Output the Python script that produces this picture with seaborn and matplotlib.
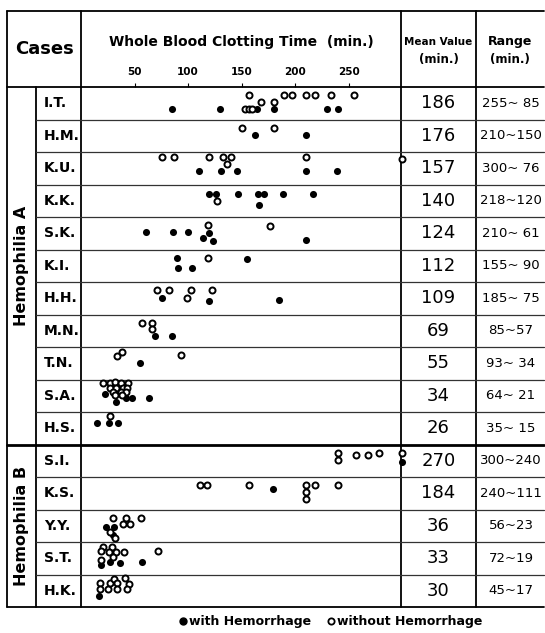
import pandas as pd
import matplotlib.pyplot as plt
import seaborn as sns
from matplotlib import font_manager
from matplotlib.lines import Line2D

cases = ['I.T.', 'H.M.', 'K.U.', 'K.K.', 'S.K.', 'K.I.', 'H.H.', 'M.N.', 'T.N.', 'S.A.', 'H.S.',
         'S.I.', 'K.S.', 'Y.Y.', 'S.T.', 'H.K.']
groups = ['Hemophilia A', 'Hemophilia B']
group_sizes = [11, 5]
mean_values = [186, 176, 157, 140, 124, 112, 109, 69, 55, 34, 26, 270, 184, 36, 33, 30]
ranges = ['255~ 85', '210~150', '300~ 76', '218~120', '210~ 61', '155~ 90', '185~ 75', '85~57',
          '93~ 34', '64~ 21', '35~ 15', '300~240', '240~111', '56~23', '72~19', '45~17']
tick_values = [50, 100, 150, 200, 250]

# (minutes, stacking level inside the row)
with_hemorrhage = {
    'I.T.': [(85, 2), (130, 2), (164, 2), (180, 2), (230, 2), (240, 2)],
    'H.M.': [(163, 1.1), (210, 1.1)],
    'K.U.': [(110, 1.6), (131, 1.6), (146, 1.6), (210, 1.6), (239, 1.6)],
    'K.K.': [(120, 0.2), (126, 0.2), (147, 0.2), (165, 0.2), (171, 0.2), (189, 0.2), (217, 0.2), (166, 1.9)],
    'S.K.': [(61, 1), (86, 1), (100, 1), (120, 1.2), (114, 1.9), (123, 2.3), (210, 2.2)],
    'K.I.': [(90, 0), (155, 0.2), (91, 1.5), (104, 1.5)],
    'H.H.': [(76, 1.2), (120, 1.6), (185, 1.5)],
    'M.N.': [(69, 2), (85, 2)],
    'T.N.': [(55, 1.2)],
    'S.A.': [(22, 1), (33, 2.1), (42, 1.6), (48, 1.6), (64, 1.6)],
    'H.S.': [(15, 0.5), (26, 0.5), (35, 0.5)],
    'S.I.': [(300, 1.4)],
    'K.S.': [(179, 0.6)],
    'Y.Y.': [(23, 1.4), (31, 1.4), (30, 2.6)],
    'S.T.': [(19, 2.2), (27, 1.8), (36, 1.9), (57, 1.8)],
    'H.K.': [(17, 2)],
}
without_hemorrhage = {
    'I.T.': [(157, 0), (190, 0), (197, 0), (210, 0), (219, 0), (234, 0), (255, 0),
             (168, 1), (180, 1), (153, 2), (157, 2), (160, 2)],
    'H.M.': [(150, 0), (180, 0)],
    'K.U.': [(76, -0.4), (87, -0.4), (120, -0.4), (133, -0.4), (140, -0.4), (210, -0.4),
             (300, -0.2), (136, 0.6)],
    'K.K.': [(127, 1.2)],
    'S.K.': [(119, 0), (177, 0.1)],
    'K.I.': [(119, 0.1)],
    'H.H.': [(71, 0), (82, 0), (103, 0), (122, 0), (99, 1.2)],
    'M.N.': [(57, 0), (66, 0), (66, 1)],
    'T.N.': [(34, 0.2), (38, -0.5), (93, 0)],
    'S.A.': [(21, -0.7), (27, -0.7), (32, -0.8), (37, -0.7), (44, -0.7),
             (27, 0), (33, 0), (39, 0), (43, 0),
             (30, 0.6), (37, 0.6), (42, 0.6), (32, 1.1), (38, 1.1)],
    'H.S.': [(27, -0.6)],
    'S.I.': [(240, 0.1), (240, 1.1), (257, 0.3), (268, 0.3), (278, 0.1), (300, 0)],
    'K.S.': [(111, 0), (118, 0), (157, 0), (210, 0), (210, 1.1), (210, 2.1), (219, 0), (240, 0)],
    'Y.Y.': [(30, 0), (42, 0), (56, 0), (39, 1), (46, 1), (27, 2.2), (32, 3)],
    'S.T.': [(21, -0.5), (29, -0.5), (19, 0.2), (26, 0.3), (33, 0.3), (40, 0.3), (30, 1.1),
             (72, 0.1), (19, 1.4)],
    'H.K.': [(18, 0), (18, 1), (25, 1), (27, 0), (31, -0.5), (34, 0), (34, 1), (41, -0.7),
             (45, 0.2), (43, 1)],
}

rows = []
for status, table in [('with', with_hemorrhage), ('without', without_hemorrhage)]:
    for case, pts in table.items():
        for minutes, level in pts:
            rows.append({'case': case, 'minutes': minutes, 'level': level, 'status': status})
df = pd.DataFrame(rows)
df['row'] = df['case'].map({c: i for i, c in enumerate(cases)})

W, H = 545, 633
row_h = 32.5
df['y'] = df['row'] - 0.5 + (8 + 6.8 * df['level']) / row_h

sns.set_style('white')
available = {f.name for f in font_manager.fontManager.ttflist}
narrow = 'Liberation Sans Narrow' if 'Liberation Sans Narrow' in available else 'DejaVu Sans'
plt.rcParams['font.family'] = [narrow, 'DejaVu Sans']
plt.rcParams['text.color'] = 'black'
plt.rcParams['xtick.color'] = 'black'

fig = plt.figure(figsize=(W / 100, H / 100), dpi=100)

# table frame in pixel coordinates
tab = fig.add_axes([0, 0, 1, 1])
tab.set_xlim(0, W)
tab.set_ylim(H, 0)
tab.axis('off')

left, right, top, head, bottom = 7, 544, 11, 87, 607
c_group, c_case, c_plot, c_mean = 36, 81, 401, 476
lw = 1.3
tab.plot([left, right], [top, top], color='black', lw=lw)
tab.plot([left, right], [head, head], color='black', lw=lw)
tab.plot([left, right], [bottom, bottom], color='black', lw=lw)
tab.plot([left, left], [top, bottom], color='black', lw=lw)
for x in [c_case, c_plot, c_mean]:
    tab.plot([x, x], [top, bottom], color='black', lw=lw)
tab.plot([c_group, c_group], [head, bottom], color='black', lw=lw)
for i in range(1, len(cases)):
    y = head + i * row_h
    if i == group_sizes[0]:
        tab.plot([left, right], [y, y], color='black', lw=2)
    else:
        tab.plot([c_group, right], [y, y], color='#333333', lw=0.9)

# headers
tab.text((left + c_case) / 2, 49, 'Cases', ha='center', va='center', fontsize=13, weight='bold')
tab.text((c_case + c_plot) / 2, 42, 'Whole Blood Clotting Time  (min.)', ha='center', va='center',
         fontsize=10, weight='bold')
tab.text((c_plot + c_mean) / 2, 42, 'Mean Value', ha='center', va='center', fontsize=7.5, weight='bold')
tab.text((c_plot + c_mean) / 2, 60, '(min.)', ha='center', va='center', fontsize=8.5, weight='bold')
tab.text((c_mean + right) / 2, 42, 'Range', ha='center', va='center', fontsize=9, weight='bold')
tab.text((c_mean + right) / 2, 60, '(min.)', ha='center', va='center', fontsize=8.5, weight='bold')

# group labels
start = 0
for g, n in zip(groups, group_sizes):
    yc = head + (start + n / 2) * row_h
    tab.text((left + c_group) / 2, yc, g, rotation=90, ha='center', va='center',
             fontsize=11.5, weight='bold')
    start += n

# case names, mean values, ranges
for i, case in enumerate(cases):
    yc = head + (i + 0.5) * row_h
    tab.text(44, yc, case, ha='left', va='center', fontsize=10, weight='bold')
    tab.text((c_plot + c_mean) / 2, yc, str(mean_values[i]), ha='center', va='center', fontsize=13)
    tab.text((c_mean + right) / 2 + 1, yc, ranges[i], ha='center', va='center', fontsize=9.5)

# dot plot column
ax = fig.add_axes([c_case / W, 1 - bottom / H, (c_plot - c_case) / W, (bottom - head) / H])
ax.patch.set_alpha(0)
sns.scatterplot(data=df[df['status'] == 'with'], x='minutes', y='y', color='black', s=26,
                linewidth=0, ax=ax, clip_on=False, legend=False, zorder=3)
sns.scatterplot(data=df[df['status'] == 'without'], x='minutes', y='y', color='white',
                edgecolor='black', linewidth=1.4, s=19, ax=ax, clip_on=False, legend=False, zorder=4)
ax.set_xlim(0, 299)
ax.set_ylim(len(cases) - 0.5, -0.5)
ax.set_yticks([])
ax.xaxis.tick_top()
ax.set_xticks(tick_values)
ax.set_xticklabels([str(t) for t in tick_values], fontsize=7.5, weight='bold')
ax.tick_params(axis='x', length=3, width=0.8, pad=4, direction='out', top=True, bottom=False)
ax.set_xlabel('')
ax.set_ylabel('')
for s in ax.spines.values():
    s.set_visible(False)

handles = [Line2D([], [], marker='o', ls='', color='black', markersize=5),
           Line2D([], [], marker='o', ls='', markerfacecolor='white', markeredgecolor='black',
                  markeredgewidth=1.3, markersize=4.5)]
fig.legend(handles, ['with Hemorrhage', 'without Hemorrhage'], loc='center', ncol=2,
           bbox_to_anchor=(330 / W, 1 - 622 / H), frameon=False, handletextpad=0.1,
           columnspacing=1.2, handlelength=0.8, prop={'size': 9, 'weight': 'bold'})

fig.savefig('out.png', dpi=100)
